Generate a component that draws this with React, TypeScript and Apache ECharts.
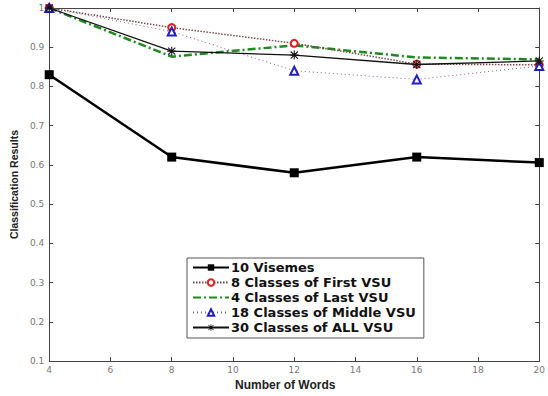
import React, { useEffect, useRef } from "react";
import * as echarts from "echarts";

const wordCounts = [4, 8, 12, 16, 20];
const visemes10 = [0.83, 0.62, 0.58, 0.62, 0.606];
const firstVSU8 = [1.0, 0.95, 0.91, 0.857, 0.855];
const lastVSU4 = [1.0, 0.876, 0.905, 0.874, 0.869];
const middleVSU18 = [1.0, 0.94, 0.84, 0.818, 0.852];
const allVSU30 = [1.0, 0.89, 0.88, 0.856, 0.865];
const seriesNames = [
  "10 Visemes",
  "8 Classes of First VSU",
  "4 Classes of Last VSU",
  "18 Classes of Middle VSU",
  "30 Classes of ALL VSU",
];

const asterisk =
  "path://M4.4,0L5.6,0L5.6,10L4.4,10Z M0,4.4L10,4.4L10,5.6L0,5.6Z M0.6,1.45L1.45,0.6L9.4,8.55L8.55,9.4Z M8.55,0.6L9.4,1.45L1.45,9.4L0.6,8.55Z";

const toPairs = (vals: number[]) => wordCounts.map((x, i) => [x, vals[i]]);

export default function App() {
  const ref = useRef<HTMLDivElement>(null);
  useEffect(() => {
    if (!ref.current) return;
    const chart = echarts.init(ref.current, undefined, { renderer: "svg" });
    const tickLabel = {
      fontFamily: "DejaVu Sans",
      fontSize: 9,
      color: "#777",
    };
    const axisLine = { show: true, lineStyle: { color: "#444", width: 1 } };
    const axisTick = { show: true, inside: true, length: 4, lineStyle: { color: "#444" } };
    chart.setOption({
      animation: false,
      backgroundColor: "#fff",
      grid: { left: 45, right: 5, top: 8, bottom: 24, containLabel: false },
      legend: {
        left: 187,
        top: 258,
        orient: "vertical",
        data: seriesNames.map((n, i) =>
          i === 2
            ? { name: n, itemStyle: { color: "rgba(0,0,0,0)", borderColor: "rgba(0,0,0,0)", borderWidth: 0 } }
            : { name: n }
        ),
        itemWidth: 36,
        itemHeight: 8,
        itemGap: 2,
        padding: [3, 8, 4, 5],
        borderColor: "#555",
        borderWidth: 1,
        backgroundColor: "#fff",
        textStyle: {
          fontFamily: "DejaVu Sans",
          fontWeight: "bold",
          fontSize: 13,
          color: "#111",
          padding: [0, 0, 0, -3],
        },
      },
      xAxis: [
        {
          type: "value",
          min: 4,
          max: 20,
          interval: 2,
          name: "Number of Words",
          nameLocation: "middle",
          nameGap: 10,
          nameTextStyle: {
            fontFamily: "Liberation Sans",
            fontWeight: "bold",
            fontSize: 12,
            color: "#222",
            padding: [0, 18, 0, 0],
          },
          axisLine,
          axisTick,
          axisLabel: { ...tickLabel, margin: 4 },
          splitLine: { show: false },
        },
        {
          type: "value",
          position: "top",
          min: 4,
          max: 20,
          interval: 2,
          axisLine,
          axisTick,
          axisLabel: { show: false },
          splitLine: { show: false },
        },
      ],
      yAxis: [
        {
          type: "value",
          min: 0.1,
          max: 1,
          interval: 0.1,
          name: "Classification Results",
          nameLocation: "middle",
          nameGap: 26,
          nameTextStyle: {
            fontFamily: "Liberation Sans",
            fontWeight: "bold",
            fontSize: 10.5,
            color: "#222",
          },
          axisLine,
          axisTick,
          axisLabel: {
            ...tickLabel,
            margin: 5,
            formatter: (v: number) => (Math.abs(v - 1) < 1e-9 ? "1" : v.toFixed(1)),
          },
          splitLine: { show: false },
        },
        {
          type: "value",
          position: "right",
          min: 0.1,
          max: 1,
          interval: 0.1,
          axisLine,
          axisTick,
          axisLabel: { show: false },
          splitLine: { show: false },
        },
      ],
      series: [
        {
          name: seriesNames[0],
          type: "line",
          data: toPairs(visemes10),
          symbol: "rect",
          symbolSize: 9,
          lineStyle: { color: "#000", width: 2.5 },
          itemStyle: { color: "#000" },
          z: 5,
        },
        {
          name: seriesNames[1],
          type: "line",
          data: toPairs(firstVSU8),
          symbol: "emptyCircle",
          symbolSize: 7,
          lineStyle: { color: "#7a4a4a", width: 1.5, type: [1.5, 1.5] },
          itemStyle: { color: "#e02020", borderColor: "#e02020", borderWidth: 2 },
          z: 3,
        },
        {
          name: seriesNames[2],
          type: "line",
          data: toPairs(lastVSU4),
          symbol: "none",
          lineStyle: { color: "#1f8a1f", width: 2.5, type: [8, 3, 2, 3] },
          itemStyle: { color: "#1f8a1f" },
          z: 2,
        },
        {
          name: seriesNames[3],
          type: "line",
          data: toPairs(middleVSU18),
          symbol: "emptyTriangle",
          symbolSize: 8,
          lineStyle: { color: "#6a6a8a", width: 1, type: [1, 3] },
          itemStyle: { color: "#2020c0", borderColor: "#2020c0", borderWidth: 1.5 },
          z: 3,
        },
        {
          name: seriesNames[4],
          type: "line",
          data: toPairs(allVSU30),
          symbol: asterisk,
          symbolSize: 9,
          lineStyle: { color: "#111", width: 1.3 },
          itemStyle: { color: "#111" },
          z: 4,
        },
      ],
    });
    return () => chart.dispose();
  }, []);
  return (
    <div
      ref={ref}
      style={{ position: "fixed", left: 0, top: 0, width: 548, height: 396 }}
    />
  );
}
